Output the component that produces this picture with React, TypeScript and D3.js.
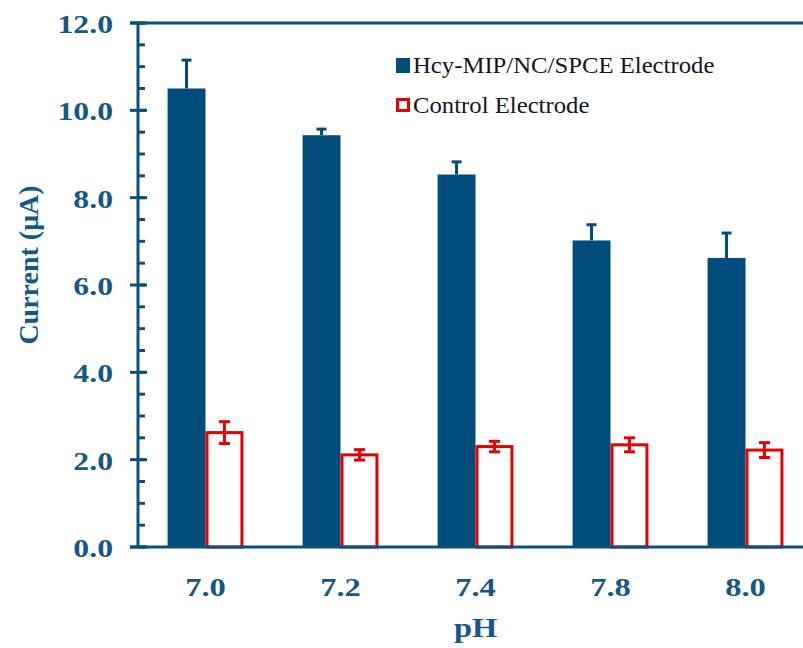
import React from "react";
import * as d3 from "d3";

const categories = ["7.0", "7.2", "7.4", "7.8", "8.0"];
const seriesNames = ["Hcy-MIP/NC/SPCE Electrode", "Control Electrode"];
const mipValues = [10.5, 9.43, 8.53, 7.02, 6.62];
const mipErrors = [0.65, 0.14, 0.29, 0.36, 0.57];
const controlValues = [2.62, 2.11, 2.3, 2.34, 2.22];
const controlErrors = [0.25, 0.12, 0.12, 0.16, 0.17];
const yMajorTicks = [0, 2, 4, 6, 8, 10, 12];
const yMinorTicks = d3.range(0, 12.01, 0.5);

const W = 803;
const H = 648;
const BLUE = "#004d7c";
const AXIS = "#0b4f7e";
const LABEL = "#125888";
const RED = "#e80000";
const FONT = "Liberation Serif, Times New Roman, serif";

export default function App() {
  const x0 = 138;
  const step = 135;
  const x = d3.scaleBand<string>().domain(categories).range([x0, x0 + step * categories.length]).padding(0);
  const inner = d3.scaleBand<string>().domain(["mip", "ctrl"]).range([0, x.bandwidth()]).paddingInner(0).paddingOuter(0.78);
  const y = d3.scaleLinear().domain([0, 12]).range([547, 23]);
  const bw = inner.bandwidth();
  const tf = { fontFamily: FONT };

  return (
    <svg width={W} height={H} style={{ position: "absolute", left: 0, top: 0, background: "#fff" }}>
      <rect x={0} y={0} width={W} height={H} fill="#fff" />
      {categories.map((c, i) => {
        const bx = (x(c) as number) + (inner("mip") as number);
        const rx = (x(c) as number) + (inner("ctrl") as number);
        const mTop = y(mipValues[i]);
        const mErr = y(mipValues[i] + mipErrors[i]);
        const cTop = y(controlValues[i]);
        const cHi = y(controlValues[i] + controlErrors[i]);
        const cLo = y(controlValues[i] - controlErrors[i]);
        const mcx = bx + bw / 2;
        const ccx = rx + bw / 2;
        return (
          <g key={c}>
            <line x1={mcx} x2={mcx} y1={mTop} y2={mErr} stroke={BLUE} strokeWidth={3} />
            <line x1={mcx - 5} x2={mcx + 5} y1={mErr} y2={mErr} stroke={BLUE} strokeWidth={3} />
            <rect x={bx} y={mTop} width={bw} height={y(0) - mTop} fill={BLUE} />
            <rect x={rx + 1.5} y={cTop} width={bw - 3} height={y(0) - cTop} fill="#fff" stroke={RED} strokeWidth={3} />
            <line x1={ccx} x2={ccx} y1={cHi} y2={cLo} stroke={RED} strokeWidth={3} />
            <line x1={ccx - 5.5} x2={ccx + 5.5} y1={cHi} y2={cHi} stroke={RED} strokeWidth={3} />
            <line x1={ccx - 5.5} x2={ccx + 5.5} y1={cLo} y2={cLo} stroke={RED} strokeWidth={3} />
          </g>
        );
      })}
      <line x1={x0} x2={x0} y1={y(12)} y2={y(0)} stroke={AXIS} strokeWidth={3} />
      <line x1={130} x2={W} y1={y(0)} y2={y(0)} stroke={AXIS} strokeWidth={3} />
      <line x1={130} x2={W} y1={y(12)} y2={y(12)} stroke={AXIS} strokeWidth={3} />
      {yMinorTicks.map((t) => (
        <line key={"mi" + t} x1={x0} x2={x0 + 7} y1={y(t)} y2={y(t)} stroke={AXIS} strokeWidth={3} />
      ))}
      {yMajorTicks.map((t) => (
        <line key={"ma" + t} x1={130} x2={x0 + 9} y1={y(t)} y2={y(t)} stroke={AXIS} strokeWidth={3} />
      ))}
      {yMajorTicks.map((t) => (
        <text
          key={"yl" + t}
          transform={`translate(113, ${y(t) + 10}) scale(1.22, 1)`}
          textAnchor="end"
          fontSize={26}
          fontWeight="bold"
          fill={LABEL}
          style={tf}
        >
          {t.toFixed(1)}
        </text>
      ))}
      {categories.map((c) => (
        <text
          key={"xl" + c}
          transform={`translate(${(x(c) as number) + x.bandwidth() / 2}, 596) scale(1.25, 1)`}
          textAnchor="middle"
          fontSize={26}
          fontWeight="bold"
          fill={LABEL}
          style={tf}
        >
          {c}
        </text>
      ))}
      <text transform={`translate(${(x0 + x0 + step * 5) / 2}, 637) scale(1.2, 1)`} textAnchor="middle" fontSize={27} fontWeight="bold" fill={LABEL} style={tf}>
        pH
      </text>
      <text transform={`translate(38, 265) rotate(-90)`} textAnchor="middle" fontSize={28} fontWeight="bold" fill={LABEL} style={tf}>
        Current (μA)
      </text>
      <rect x={396} y={58} width={14} height={15} fill={BLUE} />
      <text transform="translate(413, 73) scale(1.03, 1)" fontSize={24} fill="#14141e" style={tf}>
        {seriesNames[0]}
      </text>
      <rect x={397.5} y={99.5} width={11} height={11} fill="#fff" stroke={RED} strokeWidth={3} />
      <text transform="translate(413, 113) scale(1.03, 1)" fontSize={24} fill="#14141e" style={tf}>
        {seriesNames[1]}
      </text>
    </svg>
  );
}
